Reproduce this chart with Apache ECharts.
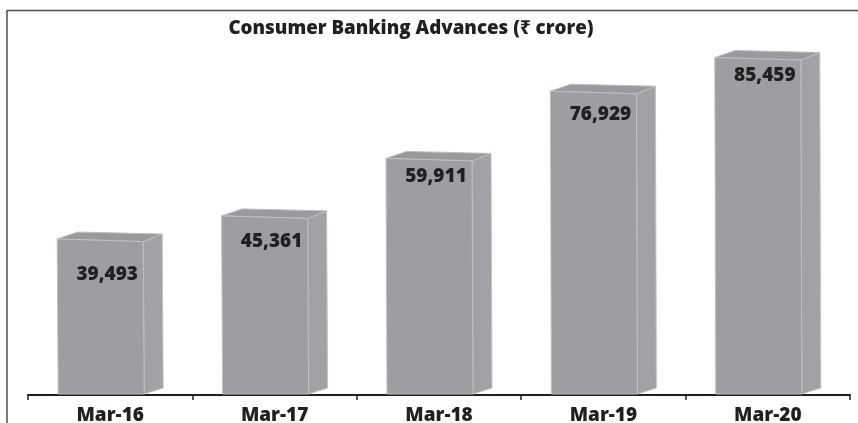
<!DOCTYPE html>
<html><head><meta charset="utf-8">
<style>html,body{margin:0;padding:0;background:#fff}#c{width:858px;height:423px}</style>
<script src="https://cdn.jsdelivr.net/npm/echarts@6/dist/echarts.min.js"></script>
</head><body><div id="c"></div>
<script>
const categories = ['Mar-16','Mar-17','Mar-18','Mar-19','Mar-20'];
const advances = [39493,45361,59911,76929,85459];
const valueLabels = ['39,493','45,361','59,911','76,929','85,459'];
const titleText = 'Consumer Banking Advances (₹ crore)';
const labelDrop = [36,26,18,23,18];
const FONT = '"Open Sans","Noto Sans",sans-serif';
const chart = echarts.init(document.getElementById('c'),null,{renderer:'canvas'});
function renderBox(params, api){
  const i = api.value(0);
  const top = api.coord([i, api.value(1)]);
  const base = api.coord([i, 0]);
  const cx = top[0], ty = top[1], by = base[1]-1;
  const L = cx-53, R = cx+33;
  const front = [[L,ty],[R,ty+2.5],[R+1,by],[L+1,by]];
  const side = [[R,ty+2.5],[R+19,ty-5],[R+20,by-6],[R+1,by]];
  const lid = [[L,ty],[L+20.5,ty-7],[R+19,ty-5],[R,ty+2.5]];
  const poly=(pts,fill,stroke)=>({type:'polygon',shape:{points:pts},style:{fill:fill,stroke:stroke,lineWidth:1}});
  return {type:'group',children:[
    poly(side,'#a1a2a5','#c4c5c7'),
    poly(lid,'#999a9d','#bcbdbf'),
    poly(front,'#9d9ea1','#bebfc1'),
    {type:'text',style:{text:valueLabels[params.dataIndex],x:cx-3,y:ty+labelDrop[params.dataIndex],
      align:'center',verticalAlign:'middle',fill:'#231f20',font:'800 19px '+FONT}}
  ]};
}
chart.setOption({
  animation:false,
  backgroundColor:'#fff',
  title:{text:titleText,left:406,top:12,textAlign:'center',
    textStyle:{fontFamily:FONT,fontWeight:800,fontSize:18.75,color:'#231f20',lineHeight:24}},
  grid:{left:28,right:8,top:10,bottom:28,outerBoundsMode:'none',containLabel:false},
  xAxis:{type:'category',data:categories,boundaryGap:true,
    axisLine:{lineStyle:{color:'#231f20',width:2}},
    axisTick:{show:true,alignWithLabel:false,length:5,lineStyle:{color:'#231f20',width:1.5}},
    axisLabel:{fontFamily:FONT,fontWeight:800,fontSize:19,color:'#231f20',margin:11}},
  yAxis:{type:'value',min:0,max:97500,show:false},
  graphic:[
    {type:'line',shape:{x1:7,y1:10.5,x2:858,y2:10.5},style:{stroke:'#4d4d4f',lineWidth:1.5}},
    {type:'line',shape:{x1:7,y1:10,x2:7,y2:423},style:{stroke:'#4d4d4f',lineWidth:1.5}}
  ],
  series:[{type:'custom',renderItem:renderBox,encode:{x:0,y:1},clip:false,
    data:advances.map((v,i)=>[i,v])}]
});
</script></body></html>
